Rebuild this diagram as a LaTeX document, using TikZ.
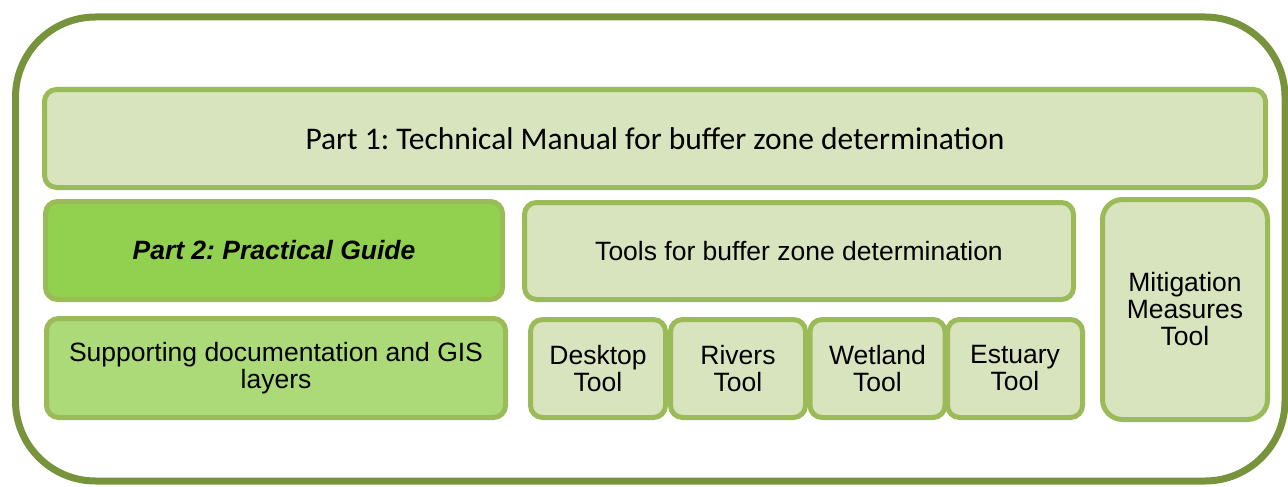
\documentclass[tikz,border=0pt]{standalone}
\usepackage{fontspec}
\setmainfont{Liberation Sans}
\newfontfamily\calibri{Carlito}
\usetikzlibrary{shadows}
\frenchspacing

\definecolor{frameline}{HTML}{77933C}
\definecolor{boxline}{HTML}{9BBB59}
\definecolor{boxfill}{HTML}{D7E4BD}
\definecolor{guidefill}{HTML}{92D050}
\definecolor{docfill}{HTML}{ACDA78}

\begin{document}
\begin{tikzpicture}[x=1pt,y=-1pt,
 frame/.style={draw=frameline,line width=7pt,fill=white,rounded corners=80pt,
  drop shadow={shadow xshift=1.5pt,shadow yshift=-2pt,opacity=.25}},
 box/.style={draw=boxline,line width=5pt,fill=boxfill,rounded corners=12pt,
  align=center,inner sep=0pt,font=\fontsize{26.5}{27}\selectfont},
 toolbox/.style={box,minimum width=135pt,minimum height=98pt}]
\useasboundingbox (0,0) rectangle (1288,487);
\path[frame] (15.5,17) rectangle (1285,481);
% manual across the top
\node[box,minimum width=1221pt,minimum height=98pt,
 font=\calibri\fontsize{31.5}{33}\selectfont] (manual) at (655,138.5)
 {Part 1: Technical Manual for buffer zone determination};
% left column
\node[box,fill=guidefill,minimum width=457pt,minimum height=98pt,
 font=\fontsize{26.5}{27}\selectfont\bfseries\itshape] (guide) at (274,250.5)
 {Part 2: Practical Guide};
\node[box,fill=docfill,minimum width=459pt,minimum height=99pt] (docs) at (276,368)
 {Supporting documentation and GIS\\layers};
% tools
\node[box,minimum width=549pt,minimum height=97pt] (tools) at (799,251)
 {Tools for buffer zone determination};
\node[toolbox] (desktop) at (598,368.5) {Desktop\\Tool};
\node[toolbox] (rivers) at (738,368.5) {Rivers\\Tool};
\node[toolbox] (wetland) at (877.5,368.5) {Wetland\\Tool};
\node[toolbox] (estuary) at (1015,368.5) {Estuary\\Tool};
\node[box,rounded corners=20pt,minimum width=165pt,minimum height=220pt] (mitigation)
 at (1185,309.5) {Mitigation\\Measures\\Tool};
\end{tikzpicture}
\end{document}
